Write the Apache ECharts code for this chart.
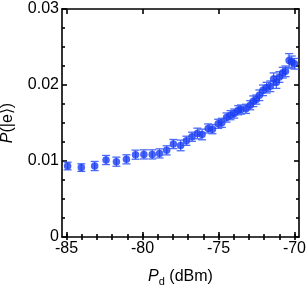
<!DOCTYPE html>
<html><head><meta charset="utf-8">
<script src="https://cdn.jsdelivr.net/npm/echarts@6/dist/echarts.min.js"></script>
<style>html,body{margin:0;padding:0;background:#fff}#c{width:306px;height:286px}</style>
</head><body><div id="c"></div>
<script>
const powerDbm = [-84.93,-84.03,-83.15,-82.40,-81.72,-81.06,-80.46,-79.91,-79.36,-78.88,-78.41,-77.97,-77.49,-77.11,-76.74,-76.39,-76.08,-75.68,-75.40,-75.02,-74.78,-74.47,-74.21,-73.96,-73.70,-73.52,-73.19,-72.91,-72.71,-72.51,-72.31,-72.07,-71.83,-71.59,-71.37,-71.19,-70.99,-70.77,-70.59,-70.35,-70.18,-70.00];
const probE = [0.00934,0.00913,0.00934,0.01013,0.00991,0.01022,0.01083,0.01087,0.01087,0.01100,0.01140,0.01223,0.01205,0.01266,0.01319,0.01362,0.01349,0.01428,0.01419,0.01489,0.01502,0.01572,0.01603,0.01624,0.01668,0.01677,0.01686,0.01734,0.01786,0.01808,0.01865,0.01930,0.01965,0.01983,0.02079,0.02035,0.02105,0.02162,0.02180,0.02323,0.02301,0.02279];
const probErr = [0.0005,0.0005,0.0006,0.0006,0.0006,0.0006,0.0006,0.0006,0.0006,0.0006,0.0006,0.0006,0.0007,0.0006,0.0006,0.0007,0.0007,0.0006,0.0006,0.0006,0.0006,0.0006,0.0006,0.0006,0.0006,0.0006,0.0006,0.0006,0.0007,0.0006,0.0007,0.0007,0.0007,0.0007,0.0008,0.0008,0.0007,0.0007,0.0007,0.0009,0.0008,0.0007];
const xMajorTicks = [-85,-80,-75,-70];
const xMinorTicks = [-85,-84,-83,-82,-81,-80,-79,-78,-77,-76,-75,-74,-73,-72,-71,-70];

const FONT = 'Liberation Sans, Arial, sans-serif';
const chart = echarts.init(document.getElementById('c'), null, {renderer:'canvas'});
const lineStyle = {color:'#000', width:1.6};
const errData = powerDbm.map((x,i)=>[x, probE[i]-probErr[i], probE[i]+probErr[i]]);
const ptData = powerDbm.map((x,i)=>[x, probE[i]]);

function xAx(extra){
  return Object.assign({type:'value', min:-85.3, max:-69.7, splitLine:{show:false},
    axisLine:{show:true, onZero:false, lineStyle}, axisLabel:{show:false}}, extra);
}
chart.setOption({
  animation:false,
  grid:{left:62, right:7, top:9, bottom:49, containLabel:false, outerBoundsMode:'none'},
  xAxis:[
    xAx({position:'bottom', axisTick:{inside:true, length:5, lineStyle, customValues:xMajorTicks},
      axisLabel:{show:true, customValues:xMajorTicks, color:'#000', fontSize:16, fontFamily:FONT, margin:4},
      name:'{i|P}{s|d} (dBm)', nameLocation:'middle', nameGap:30,
      nameTextStyle:{color:'#000', fontSize:16, fontFamily:FONT,
        rich:{i:{fontStyle:'italic', fontSize:16, fontFamily:FONT, color:'#000'},
              s:{fontSize:11, fontFamily:FONT, color:'#000', verticalAlign:'bottom', padding:[9,0,0,0]}}}}),
    xAx({position:'bottom', axisLine:{show:false}, axisTick:{inside:true, length:3, lineStyle, customValues:xMinorTicks}}),
    xAx({position:'top', axisTick:{inside:true, length:5, lineStyle, customValues:xMajorTicks}}),
    xAx({position:'top', axisLine:{show:false}, axisTick:{inside:true, length:3, lineStyle, customValues:xMinorTicks}})
  ],
  yAxis:[
    {type:'value', min:0, max:0.03, interval:0.01, position:'left', splitLine:{show:false},
      axisLine:{show:true, onZero:false, lineStyle},
      axisTick:{inside:true, length:5, lineStyle},
      minorTick:{show:true, splitNumber:4, length:3, lineStyle},
      axisLabel:{color:'#000', fontSize:16, fontFamily:FONT, margin:3,
        formatter:v=> v===0 ? '0' : v.toFixed(2)},
      name:'{i|P}(|e⟩)', nameLocation:'middle', nameGap:46, nameRotate:90,
      nameTextStyle:{color:'#000', fontSize:16, fontFamily:FONT,
        rich:{i:{fontStyle:'italic', fontSize:16, fontFamily:FONT, color:'#000'}}}},
    {type:'value', min:0, max:0.03, interval:0.01, position:'right', splitLine:{show:false},
      axisLine:{show:true, onZero:false, lineStyle},
      axisTick:{inside:true, length:5, lineStyle},
      minorTick:{show:true, splitNumber:4, length:3, lineStyle},
      axisLabel:{show:false}}
  ],
  series:[
    {type:'custom', xAxisIndex:0, yAxisIndex:0, data:errData, z:2,
      renderItem:function(params, api){
        const x = api.value(0);
        const lo = api.coord([x, api.value(1)]);
        const hi = api.coord([x, api.value(2)]);
        const cw = 4;
        const st = {stroke:'#4a6cf7', lineWidth:1.3};
        return {type:'group', children:[
          {type:'line', shape:{x1:lo[0], y1:lo[1], x2:hi[0], y2:hi[1]}, style:st},
          {type:'line', shape:{x1:lo[0]-cw, y1:lo[1], x2:lo[0]+cw, y2:lo[1]}, style:st},
          {type:'line', shape:{x1:hi[0]-cw, y1:hi[1], x2:hi[0]+cw, y2:hi[1]}, style:st}
        ]};
      }},
    {type:'scatter', xAxisIndex:0, yAxisIndex:0, data:ptData, symbol:'circle', symbolSize:7.5, z:3,
      itemStyle:{color:'#1a3cf5'}}
  ]
});
</script></body></html>
